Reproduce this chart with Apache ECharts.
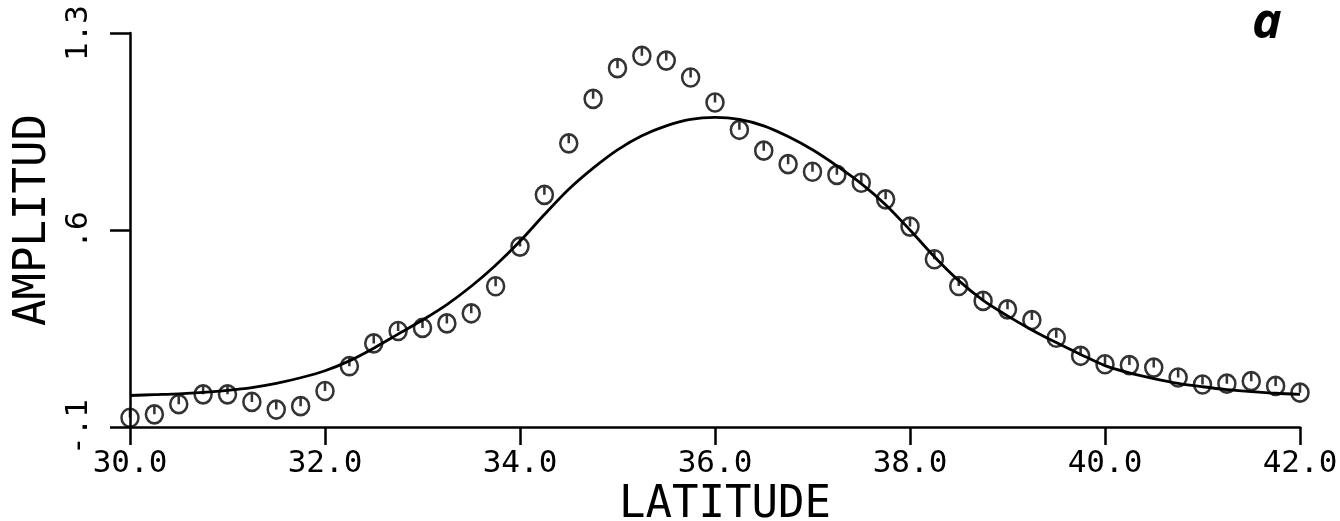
<!DOCTYPE html>
<html>
<head>
<meta charset="utf-8">
<title>AMPLITUD vs LATITUDE</title>
<script src="https://cdn.jsdelivr.net/npm/echarts@6/dist/echarts.min.js"></script>
<style>
  html, body { margin: 0; padding: 0; background: #ffffff; }
  #chart { width: 1340px; height: 521px; }
</style>
</head>
<body>
<div id="chart"></div>
<script>
// Observed amplitudes (circles), every quarter degree of latitude
const obsLatitude = [
  30.0, 30.25, 30.5, 30.75, 31.0, 31.25, 31.5, 31.75, 32.0, 32.25,
  32.5, 32.75, 33.0, 33.25, 33.5, 33.75, 34.0, 34.25, 34.5, 34.75,
  35.0, 35.25, 35.5, 35.75, 36.0, 36.25, 36.5, 36.75, 37.0, 37.25,
  37.5, 37.75, 38.0, 38.25, 38.5, 38.75, 39.0, 39.25, 39.5, 39.75,
  40.0, 40.25, 40.5, 40.75, 41.0, 41.25, 41.5, 41.75, 42.0
];
const obsAmplitude = [
  -0.067, -0.055, -0.019, 0.016, 0.016, -0.011, -0.038, -0.026, 0.028, 0.116,
  0.197, 0.241, 0.252, 0.268, 0.304, 0.400, 0.541, 0.725, 0.908, 1.066,
  1.175, 1.219, 1.202, 1.142, 1.053, 0.956, 0.882, 0.834, 0.807, 0.796,
  0.768, 0.709, 0.612, 0.496, 0.401, 0.348, 0.318, 0.280, 0.217, 0.153,
  0.123, 0.120, 0.111, 0.076, 0.051, 0.054, 0.063, 0.046, 0.022
];

// Fitted amplitude curve (solid line)
const fitLatitude = [
  30.0, 30.25, 30.5, 30.75, 31.0, 31.25, 31.5, 31.75, 32.0, 32.25,
  32.5, 32.75, 33.0, 33.25, 33.5, 33.75, 34.0, 34.25, 34.5, 34.75,
  35.0, 35.25, 35.5, 35.75, 36.0, 36.25, 36.5, 36.75, 37.0, 37.25,
  37.5, 37.75, 38.0, 38.25, 38.5, 38.75, 39.0, 39.25, 39.5, 39.75,
  40.0, 40.25, 40.5, 40.75, 41.0, 41.25, 41.5, 41.75, 42.0
];
const fitAmplitude = [
  0.012, 0.015, 0.018, 0.023, 0.030, 0.040, 0.055, 0.075, 0.100, 0.135,
  0.180, 0.230, 0.280, 0.335, 0.400, 0.475, 0.560, 0.655, 0.745, 0.820,
  0.885, 0.935, 0.970, 0.993, 1.000, 0.993, 0.970, 0.932, 0.885, 0.828,
  0.765, 0.690, 0.600, 0.505, 0.420, 0.350, 0.295, 0.245, 0.200, 0.158,
  0.118, 0.092, 0.072, 0.055, 0.043, 0.033, 0.026, 0.020, 0.016
];

// Axis ranges and tick steps
const xRange = { min: 30, max: 42, step: 2 };
const yRange = { min: -0.1, max: 1.3, step: 0.7 };
const panelLetter = 'a';

const ink = '#000000';
const mono = 'DejaVu Sans Mono';

// "0.6" -> ".6", "-0.1" -> "-.1"
function shortDecimal(v) {
  const s = (Math.round(v * 10) / 10).toFixed(1);
  return s.replace(/^(-?)0\./, '$1.');
}

// Circle with a short stroke from the top to the centre
const circleTick = 'path://M10,0A10,10,0,1,1,10,20A10,10,0,1,1,10,0ZM10,0L10,10';

const chart = echarts.init(document.getElementById('chart'), null, { renderer: 'canvas' });

chart.setOption({
  backgroundColor: '#ffffff',
  animation: false,
  grid: {
    left: 130, right: 40, top: 33, bottom: 94,
    containLabel: false,
    outerBoundsMode: 'none'
  },
  xAxis: {
    type: 'value',
    min: xRange.min, max: xRange.max, interval: xRange.step,
    name: 'LATITUDE',
    nameLocation: 'middle',
    nameGap: 48,
    nameTextStyle: { fontFamily: mono, fontSize: 44, color: ink, padding: [0, 0, 0, 20] },
    axisLine: { show: true, onZero: false, lineStyle: { color: ink, width: 2.5 } },
    axisTick: { show: true, inside: false, length: 18, lineStyle: { color: ink, width: 2.5 } },
    axisLabel: {
      show: true, margin: 21,
      fontFamily: mono, fontSize: 31, color: ink,
      formatter: v => v.toFixed(1)
    },
    splitLine: { show: false }
  },
  yAxis: {
    type: 'value',
    min: yRange.min, max: yRange.max, interval: yRange.step,
    name: 'AMPLITUD',
    nameLocation: 'middle',
    nameGap: 71,
    nameRotate: 90,
    nameTextStyle: { fontFamily: mono, fontSize: 44, color: ink, padding: [0, 0, 0, 20] },
    axisLine: { show: true, onZero: false, lineStyle: { color: ink, width: 2.5 } },
    axisTick: { show: true, inside: false, length: 20, lineStyle: { color: ink, width: 2.5 } },
    axisLabel: {
      show: true, margin: 36, rotate: 90,
      fontFamily: mono, fontSize: 31, color: ink,
      formatter: shortDecimal
    },
    splitLine: { show: false }
  },
  graphic: [{
    type: 'text',
    left: 1252,
    top: -1,
    style: {
      text: panelLetter,
      font: 'italic bold 50px "Open Sans", "Noto Sans", sans-serif',
      fill: ink
    }
  }],
  series: [
    {
      name: 'fit',
      type: 'line',
      data: fitLatitude.map((x, i) => [x, fitAmplitude[i]]),
      smooth: 0.3,
      showSymbol: false,
      symbol: 'none',
      lineStyle: { color: ink, width: 2.8 },
      silent: true,
      z: 2
    },
    {
      name: 'observed',
      type: 'scatter',
      data: obsLatitude.map((x, i) => [x, obsAmplitude[i]]),
      symbol: circleTick,
      symbolSize: [17, 18],
      itemStyle: { color: 'rgba(0,0,0,0)', borderColor: ink, borderWidth: 2.6 },
      clip: false,
      silent: true,
      z: 3
    }
  ]
});
</script>
</body>
</html>
